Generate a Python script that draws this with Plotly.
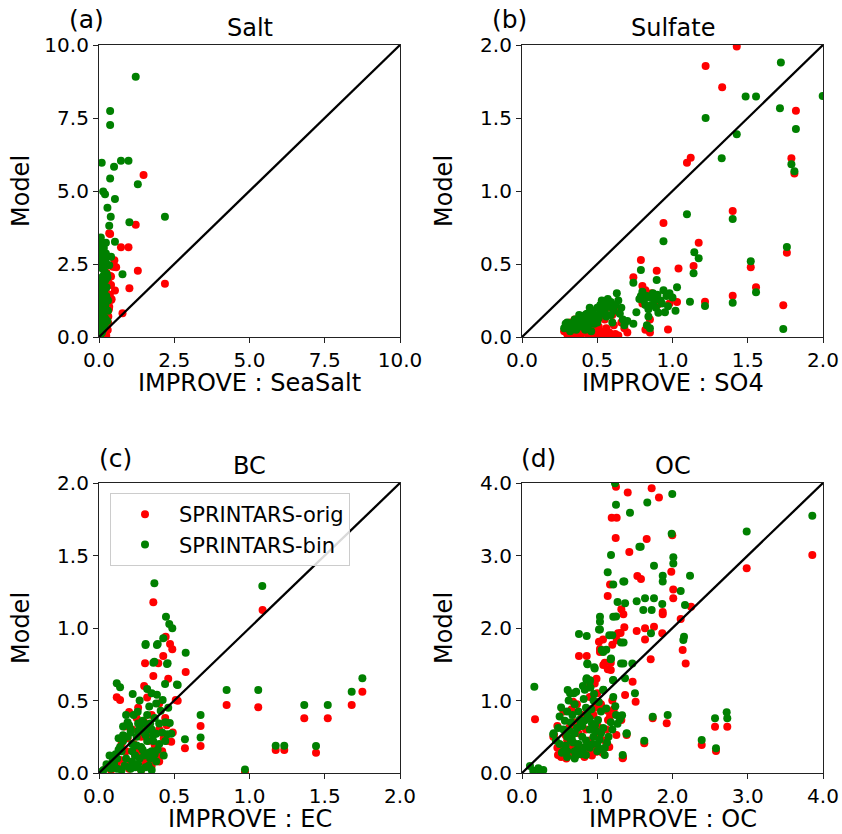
import plotly.graph_objects as go

# ---------------- data ----------------
# Panel (a) Salt: IMPROVE SeaSalt vs Model
a_orig_x = [1.48, 1.22, 0.37, 0.73, 0.98, 1.29, 2.19, 1.01, 0.53, 0.78, 0.42, 0.37, 0.53, 0.31, 0.31,
            0.46, 0.40, 0.40, 0.34, 0.29, 0.25, 0.20, 0.15, 0.22, 0.12, 0.18, 0.08, 0.05, 0.10, 0.25,
            0.30, 0.14, 0.20, 0.34, 0.51, 0.57, 0.40, 0.29, 0.36, 0.33, 0.27, 0.24, 0.30]
a_orig_y = [5.55, 3.84, 3.53, 3.07, 3.07, 2.27, 1.82, 1.67, 1.59, 0.81, 1.29, 2.09, 2.41, 0.70, 0.47,
            2.41, 2.07, 1.78, 1.04, 0.24, 1.50, 2.60, 2.90, 0.90, 1.20, 0.35, 0.60, 0.15, 1.90, 2.20,
            1.20, 0.10, 0.55, 3.55, 2.63, 2.39, 1.27, 0.70, 1.45, 0.95, 0.40, 0.05, 1.95]
a_bin_x = [1.22, 0.37, 0.37, 0.09, 0.73, 0.98, 0.50, 0.37, 1.29, 0.14, 0.20, 0.53, 0.28, 0.39, 2.19,
           0.34, 1.01, 0.06, 0.23, 0.53, 0.78, 0.10, 0.12, 0.23, 0.40, 0.18, 0.34, 0.05, 0.10, 0.20,
           0.28, 0.08, 0.15, 0.25, 0.05, 0.12, 0.20, 0.30, 0.08, 0.15, 0.22, 0.05, 0.12, 0.20, 0.28,
           0.08, 0.15, 0.06, 0.10, 0.04, 0.18, 0.10, 0.25, 0.30, 0.15, 0.05, 0.02, 0.02,
           0.03, 0.07, 0.11, 0.16, 0.21, 0.26, 0.03, 0.07, 0.11, 0.16, 0.21, 0.26, 0.03, 0.07, 0.11,
           0.16, 0.21, 0.03, 0.07, 0.11, 0.16, 0.24, 0.03, 0.07, 0.13, 0.19, 0.03, 0.09, 0.14, 0.02]
a_bin_y = [8.91, 7.74, 7.26, 5.97, 6.04, 6.04, 5.83, 5.43, 5.23, 4.98, 4.89, 4.73, 4.43, 4.12, 4.12,
           3.81, 3.93, 3.41, 3.23, 3.26, 2.15, 3.10, 2.98, 2.86, 2.75, 2.58, 2.46, 2.80, 2.35, 2.20,
           2.05, 1.95, 1.80, 1.70, 1.55, 1.45, 1.35, 1.25, 1.15, 1.05, 0.95, 0.85, 0.75, 0.65, 0.55,
           0.45, 0.35, 0.25, 0.15, 0.05, 1.60, 0.60, 2.50, 0.90, 2.10, 3.20, 2.40, 1.20,
           0.30, 0.50, 0.70, 0.90, 1.10, 1.30, 1.00, 1.25, 1.55, 1.75, 1.95, 2.15, 1.70, 1.85, 2.05,
           2.30, 2.65, 2.50, 2.65, 2.75, 3.05, 1.40, 0.10, 0.20, 0.25, 0.40, 0.65, 1.40, 0.55, 3.00]

# Panel (b) Sulfate: IMPROVE SO4 vs Model
b_orig_x = [1.427, 1.22, 1.33, 1.82, 1.096, 1.121, 1.79, 1.81, 1.40, 0.94, 1.174, 1.76, 0.79, 1.04, 1.14,
            1.52, 0.74, 0.895, 1.40, 1.555, 1.736, 1.216, 0.97, 1.03, 0.98, 0.80, 0.82, 0.86, 0.90, 0.80,
            0.85, 0.82, 0.85, 0.90, 0.30, 0.33, 0.36, 0.38, 0.40, 0.42, 0.45, 0.48, 0.50, 0.52, 0.55,
            0.58, 0.62, 0.35, 0.43, 0.50, 0.55, 0.60, 0.64, 0.68, 0.66, 0.32, 0.47, 0.53, 0.57,
            0.28, 0.34, 0.39, 0.44, 0.49, 0.54, 0.59, 0.64, 0.41, 0.46, 0.61, 0.70, 0.37, 0.51, 0.56]
b_orig_y = [1.99, 1.856, 1.71, 1.55, 1.194, 1.228, 1.224, 1.12, 0.863, 0.78, 0.646, 0.577, 0.527, 0.47, 0.486,
            0.477, 0.409, 0.454, 0.283, 0.34, 0.217, 0.242, 0.052, 0.24, 0.23, 0.35, 0.32, 0.30, 0.26, 0.23,
            0.12, 0.05, 0.03, 0.22, 0.02, 0.05, 0.02, 0.08, 0.03, 0.06, 0.02, 0.05, 0.02, 0.04, 0.02,
            0.03, 0.02, 0.12, 0.10, 0.10, 0.12, 0.15, 0.18, 0.06, 0.10, 0.10, 0.14, 0.17, 0.20,
            0.04, 0.01, 0.01, 0.01, 0.01, 0.01, 0.01, 0.01, 0.08, 0.07, 0.08, 0.03, 0.06, 0.07, 0.06]
b_bin_x = [1.72, 1.486, 1.555, 1.998, 1.714, 1.22, 1.82, 1.427, 1.327, 1.79, 1.81, 1.096, 1.40, 0.94, 1.145,
           1.174, 1.76, 1.52, 1.14, 0.79, 0.74, 0.895, 1.555, 1.40, 1.116, 1.216, 1.736, 1.03, 0.98, 0.906,
           0.80, 0.79, 0.83, 0.85, 0.87, 0.90, 0.92, 0.94, 0.96, 1.00, 0.82, 0.84, 0.84, 0.83, 0.85,
           0.88, 0.95, 1.02, 0.76, 0.74, 0.28, 0.30, 0.33, 0.35, 0.37, 0.39, 0.41, 0.43, 0.45, 0.47,
           0.50, 0.52, 0.55, 0.58, 0.60, 0.62, 0.64, 0.57, 0.52, 0.48, 0.44, 0.40, 0.36, 0.56, 0.60,
           0.65, 0.67, 0.68, 0.63, 0.54, 0.50, 0.42, 0.46,
           0.31, 0.34, 0.38, 0.42, 0.46, 0.49, 0.53, 0.57, 0.61, 0.32, 0.36, 0.40, 0.44, 0.48, 0.51,
           0.55, 0.59, 0.29, 0.38, 0.45, 0.53, 0.59, 0.66, 0.70, 0.81, 0.86, 0.89, 0.93, 0.97, 0.78]
b_bin_y = [1.88, 1.648, 1.648, 1.65, 1.566, 1.50, 1.424, 1.388, 1.224, 1.183, 1.135, 0.84, 0.808, 0.655, 0.58,
           0.54, 0.616, 0.518, 0.436, 0.459, 0.372, 0.39, 0.306, 0.235, 0.242, 0.212, 0.055, 0.34, 0.30, 0.166,
           0.31, 0.28, 0.28, 0.27, 0.30, 0.29, 0.25, 0.32, 0.28, 0.27, 0.22, 0.19, 0.14, 0.08, 0.06,
           0.25, 0.17, 0.18, 0.17, 0.09, 0.06, 0.10, 0.08, 0.12, 0.10, 0.14, 0.12, 0.16, 0.13, 0.18,
           0.20, 0.22, 0.24, 0.23, 0.20, 0.22, 0.25, 0.26, 0.16, 0.12, 0.08, 0.07, 0.05, 0.14, 0.10,
           0.16, 0.12, 0.08, 0.30, 0.20, 0.10, 0.05, 0.04,
           0.07, 0.10, 0.13, 0.15, 0.16, 0.15, 0.19, 0.21, 0.18, 0.04, 0.07, 0.10, 0.11, 0.09, 0.13,
           0.18, 0.15, 0.09, 0.15, 0.20, 0.25, 0.24, 0.20, 0.11, 0.25, 0.22, 0.20, 0.23, 0.21, 0.26]

# Panel (c) BC: IMPROVE EC vs Model
c_orig_x = [1.087, 0.361, 0.443, 0.472, 0.487, 0.427, 0.306, 0.394, 0.576, 0.361, 0.46, 0.118, 0.14, 0.523, 0.848,
            1.058, 1.364, 1.52, 1.679, 1.75, 0.675, 0.675, 0.571, 1.174, 1.231, 1.442, 0.97, 0.20, 0.25, 0.30,
            0.35, 0.40, 0.45, 0.22, 0.28, 0.33, 0.38, 0.42, 0.15, 0.18, 0.24, 0.30, 0.35, 0.40, 0.10,
            0.12, 0.20, 0.28, 0.33, 0.36, 0.45, 0.26, 0.32, 0.40, 0.30, 0.44, 0.05, 0.17, 0.23, 0.51,
            0.49, 0.48, 0.37, 0.31, 0.27, 0.23, 0.08, 0.14, 0.19, 0.26, 0.34, 0.39, 0.43, 0.21, 0.29]
c_orig_y = [1.124, 1.177, 0.94, 0.89, 0.853, 0.807, 0.757, 0.757, 0.697, 0.669, 0.65, 0.522, 0.503, 0.499, 0.469,
            0.453, 0.377, 0.377, 0.469, 0.561, 0.324, 0.186, 0.17, 0.159, 0.159, 0.14, 0.009, 0.42, 0.38, 0.35,
            0.40, 0.30, 0.33, 0.30, 0.25, 0.22, 0.18, 0.15, 0.20, 0.15, 0.12, 0.10, 0.05, 0.08, 0.10,
            0.05, 0.03, 0.02, 0.12, 0.28, 0.22, 0.45, 0.52, 0.48, 0.60, 0.38, 0.04, 0.32, 0.20, 0.504,
            0.28, 0.215, 0.193, 0.068, 0.124, 0.046, 0.02, 0.09, 0.24, 0.17, 0.26, 0.12, 0.24, 0.07, 0.31]
c_bin_x = [1.085, 0.368, 0.445, 0.467, 0.487, 0.427, 0.31, 0.39, 0.576, 0.368, 0.456, 0.118, 0.14, 0.523, 0.848,
           1.058, 1.364, 1.52, 1.679, 1.75, 0.675, 0.675, 0.571, 1.174, 1.231, 1.442, 0.97, 0.224, 0.32, 0.35,
           0.385, 0.439, 0.518, 0.423, 0.257, 0.334, 0.19, 0.20, 0.26, 0.30, 0.34, 0.40, 0.44, 0.47, 0.16,
           0.21, 0.35, 0.38, 0.454, 0.48, 0.30, 0.25, 0.32, 0.28, 0.22, 0.15, 0.18, 0.24, 0.30, 0.35,
           0.38, 0.33, 0.26, 0.20, 0.12, 0.10, 0.08, 0.15, 0.05, 0.35, 0.28, 0.22, 0.40, 0.42, 0.37,
           0.32, 0.14, 0.309, 0.385, 0.452, 0.361,
           0.06, 0.09, 0.11, 0.13, 0.16, 0.19, 0.22, 0.25, 0.27, 0.29, 0.31, 0.33, 0.36, 0.39, 0.12,
           0.17, 0.21, 0.24, 0.27, 0.31, 0.34, 0.37, 0.26, 0.29, 0.32, 0.36, 0.23, 0.18, 0.41, 0.44,
           0.03, 0.07, 0.02, 0.13, 0.43, 0.46, 0.38, 0.27, 0.21, 0.16]
c_bin_y = [1.29, 1.308, 1.078, 1.028, 0.998, 0.929, 0.89, 0.89, 0.83, 0.768, 0.757, 0.619, 0.591, 0.607, 0.572,
           0.572, 0.469, 0.469, 0.561, 0.653, 0.40, 0.244, 0.232, 0.188, 0.188, 0.186, 0.025, 0.545, 0.58, 0.55,
           0.54, 0.613, 0.611, 0.504, 0.423, 0.458, 0.35, 0.33, 0.342, 0.342, 0.342, 0.342, 0.35, 0.345, 0.32,
           0.30, 0.30, 0.27, 0.268, 0.27, 0.28, 0.25, 0.22, 0.18, 0.20, 0.15, 0.10, 0.12, 0.12, 0.15,
           0.08, 0.05, 0.06, 0.04, 0.10, 0.06, 0.03, 0.02, 0.06, 0.02, 0.02, 0.08, 0.20, 0.28, 0.38,
           0.40, 0.18, 0.883, 0.883, 0.752, 0.761,
           0.04, 0.08, 0.13, 0.16, 0.22, 0.25, 0.15, 0.19, 0.30, 0.16, 0.26, 0.14, 0.22, 0.16, 0.03,
           0.05, 0.03, 0.04, 0.10, 0.04, 0.10, 0.13, 0.29, 0.36, 0.30, 0.26, 0.40, 0.40, 0.43, 0.22,
           0.02, 0.12, 0.01, 0.24, 0.12, 0.45, 0.48, 0.50, 0.28, 0.26]

# Panel (d) OC: IMPROVE OC vs Model
d_orig_x = [3.858, 2.986, 1.723, 1.82, 1.405, 1.249, 1.192, 1.258, 1.245, 1.426, 1.657, 1.997, 1.984, 1.533, 1.581,
            2.01, 2.01, 1.139, 1.17, 2.247, 1.87, 1.87, 2.109, 1.347, 1.32, 2.135, 2.175, 1.71, 1.524, 1.635,
            1.754, 1.864, 1.635, 1.36, 1.31, 1.26, 1.20, 1.036, 1.036, 0.757, 0.86, 1.10, 1.14, 1.47, 1.37,
            1.51, 1.139, 1.17, 0.173, 1.923, 1.737, 2.565, 2.728, 2.388, 2.578, 1.625, 1.338, 1.39, 0.416,
            1.023, 1.077, 1.276, 1.18, 1.18, 1.08, 0.966, 0.678, 0.425, 0.47, 0.634, 1.01, 1.03, 1.143, 1.254,
            1.143, 0.988, 0.855, 0.722, 0.589, 0.478, 1.342, 1.32, 0.55, 0.60, 0.70, 0.80, 0.90, 0.75, 0.85,
            0.95, 1.05, 1.20, 0.65, 0.90, 1.10, 0.55, 0.80, 0.90, 1.00, 0.70, 0.60,
            0.52, 0.62, 0.68, 0.76, 0.83, 0.93, 0.98, 1.07, 1.16, 1.22, 0.58, 0.66, 0.73, 0.88, 0.97,
            1.12, 0.64, 0.79, 0.47, 0.99]
d_orig_y = [3.007, 2.823, 3.926, 3.80, 3.87, 3.95, 3.52, 3.52, 3.24, 3.05, 3.228, 3.28, 2.777, 2.717, 2.676,
            2.53, 2.41, 2.44, 2.60, 2.294, 2.22, 2.19, 2.124, 2.19, 2.26, 1.697, 1.51, 1.57, 1.958, 1.995,
            2.018, 1.927, 1.843, 2.01, 1.93, 1.83, 1.77, 1.71, 1.67, 1.614, 1.614, 1.52, 1.43, 1.26, 1.076,
            0.983, 0.86, 0.787, 0.74, 0.685, 0.754, 0.639, 0.639, 0.386, 0.303, 0.41, 0.202, 0.524, 0.50,
            1.81, 1.84, 1.926, 1.52, 1.42, 1.49, 1.236, 0.983, 0.524, 0.65, 0.634, 0.64, 0.50, 0.731, 0.524,
            0.363, 0.294, 0.27, 0.25, 0.20, 0.25, 0.216, 0.73, 0.85, 0.45, 0.40, 0.35, 0.45, 0.55, 0.60,
            0.80, 0.95, 1.00, 0.30, 0.30, 0.45, 0.35, 0.80, 1.05, 1.10, 0.70, 0.60,
            0.22, 0.25, 0.33, 0.28, 0.22, 0.24, 0.36, 0.28, 0.36, 0.88, 0.52, 0.88, 0.95, 1.18, 0.90,
            0.60, 0.38, 0.72, 0.35, 1.30]
d_bin_x = [3.858, 2.986, 1.997, 1.236, 1.665, 1.249, 1.435, 1.989, 1.577, 1.56, 1.183, 2.011, 2.011, 1.754, 1.139,
           2.233, 1.87, 1.87, 1.346, 1.36, 1.213, 2.109, 1.524, 1.635, 1.754, 1.27, 1.37, 1.864, 2.166, 1.036,
           1.036, 1.036, 1.612, 1.723, 1.213, 1.25, 0.757, 0.86, 1.16, 1.714, 2.153, 2.144, 1.316, 1.059, 1.183,
           0.868, 0.961, 1.316, 1.347, 1.466, 0.164, 1.369, 1.213, 0.86, 0.904, 1.081, 1.213, 1.501, 0.607,
           0.638, 1.737, 1.936, 2.565, 2.72, 2.728, 2.388, 2.578, 1.625, 1.338, 1.391, 0.416, 0.106, 0.217,
           0.283, 0.15, 0.25, 1.023, 1.20, 1.35, 1.12, 1.08, 1.178, 0.87, 0.966, 0.855, 0.90, 1.21, 1.08,
           0.834, 0.957, 0.69, 0.52, 0.50, 0.766, 1.01, 1.12, 1.33, 1.27, 1.39, 0.55, 0.60, 0.65, 0.70,
           0.75, 0.80, 0.85, 0.90, 0.95, 1.00, 1.05, 1.10, 1.15, 0.60, 0.70, 0.80, 0.90, 1.00, 0.65,
           0.75, 0.85, 0.95, 0.60, 0.50, 0.55, 0.45, 1.20, 1.25, 0.70, 0.80, 0.90, 1.05, 0.42, 1.10,
           0.85, 0.70, 0.60,
           0.53, 0.58, 0.63, 0.68, 0.73, 0.78, 0.83, 0.88, 0.93, 0.98, 1.03, 1.08, 1.13, 1.18, 0.62,
           0.72, 0.82, 0.92, 1.02, 0.57, 0.67, 0.77, 0.87, 0.97, 0.74, 0.84, 0.94, 1.04, 0.66, 0.48,
           1.24, 1.30, 0.81, 0.91, 0.71]
d_bin_y = [3.55, 3.33, 3.85, 3.996, 3.73, 3.70, 3.59, 3.30, 3.12, 3.12, 3.007, 2.975, 2.89, 2.86, 2.77,
           2.72, 2.72, 2.64, 2.64, 2.64, 2.60, 2.51, 2.37, 2.41, 2.41, 2.36, 2.34, 2.33, 2.317, 2.156,
           2.087, 1.98, 2.25, 2.25, 2.156, 2.16, 1.917, 1.89, 1.90, 1.927, 1.88, 1.834, 1.80, 1.697, 1.58,
           1.51, 1.457, 1.51, 1.51, 1.51, 1.19, 1.306, 1.283, 1.306, 1.28, 1.145, 1.05, 1.10, 1.145,
           1.10, 0.777, 0.80, 0.754, 0.837, 0.754, 0.455, 0.34, 0.446, 0.248, 0.547, 0.534, 0.097, 0.065,
           0.041, 0.03, 0.02, 1.98, 1.90, 1.80, 1.70, 1.67, 1.57, 1.50, 1.44, 1.29, 1.26, 1.28, 1.15,
           1.15, 1.09, 1.10, 0.905, 0.78, 0.733, 0.73, 0.89, 0.795, 0.68, 0.54, 0.60, 0.50, 0.45, 0.55,
           0.40, 0.50, 0.45, 0.60, 0.50, 0.40, 0.55, 0.35, 0.50, 0.30, 0.30, 0.30, 0.35, 0.30, 0.70,
           0.85, 0.90, 1.00, 0.85, 0.40, 0.30, 0.45, 0.60, 0.80, 0.95, 0.65, 0.75, 0.85, 0.55, 0.25,
           0.25, 0.20, 0.22,
           0.28, 0.38, 0.58, 0.42, 0.62, 0.26, 0.72, 0.38, 0.68, 0.58, 0.46, 0.62, 0.42, 0.70, 1.00,
           1.12, 1.02, 0.88, 0.98, 0.72, 0.80, 0.65, 0.80, 0.66, 0.33, 0.36, 0.40, 0.33, 0.48, 0.62,
           0.92, 0.74, 1.20, 1.18, 0.24]

axis_max = [10.0, 2.0, 2.0, 4.0]
tick_vals = [[0, 2.5, 5, 7.5, 10], [0, 0.5, 1, 1.5, 2], [0, 0.5, 1, 1.5, 2], [0, 1, 2, 3, 4]]
titles = ["Salt", "Sulfate", "BC", "OC"]
letters = ["(a)", "(b)", "(c)", "(d)"]
x_titles = ["IMPROVE : SeaSalt", "IMPROVE : SO4", "IMPROVE : EC", "IMPROVE : OC"]
series_names = ["SPRINTARS-orig", "SPRINTARS-bin"]

panels = [
    (a_orig_x, a_orig_y, a_bin_x, a_bin_y),
    (b_orig_x, b_orig_y, b_bin_x, b_bin_y),
    (c_orig_x, c_orig_y, c_bin_x, c_bin_y),
    (d_orig_x, d_orig_y, d_bin_x, d_bin_y),
]

# ---------------- figure ----------------
W, H = 842, 834
FONT = "DejaVu Sans"
RED = "#ff0000"
GREEN = "#008000"

# pixel boxes of the four axes (left, right, top, bottom)
boxes = [(99, 400, 45, 337), (522, 823, 45, 337), (99, 400, 483, 773), (522, 823, 483, 773)]

fig = go.Figure()
annotations = []
for i, ((ox, oy, bx, by), (l, r, t, b)) in enumerate(zip(panels, boxes)):
    n = "" if i == 0 else str(i + 1)
    xa, ya = "x" + n, "y" + n
    show = (i == 2)
    fig.add_trace(go.Scatter(x=ox, y=oy, mode="markers", xaxis=xa, yaxis=ya,
                             marker=dict(color=RED, size=8, line=dict(width=0)),
                             name=series_names[0], showlegend=show, legendgroup="orig"))
    fig.add_trace(go.Scatter(x=bx, y=by, mode="markers", xaxis=xa, yaxis=ya,
                             marker=dict(color=GREEN, size=8, line=dict(width=0)),
                             name=series_names[1], showlegend=show, legendgroup="bin"))
    m = axis_max[i]
    fig.add_trace(go.Scatter(x=[0, m], y=[0, m], mode="lines", xaxis=xa, yaxis=ya,
                             line=dict(color="black", width=2.3), showlegend=False,
                             hoverinfo="skip"))
    axis_common = dict(range=[0, m], tickvals=tick_vals[i], tickformat=".1f", automargin=False,
                       showgrid=False, zeroline=False, showline=True, linecolor="#222222",
                       linewidth=1.2, mirror=True, ticks="outside", ticklen=5, tickwidth=1.2,
                       tickcolor="#222222", tickfont=dict(family=FONT, size=20, color="black"))
    fig.layout["xaxis" + n] = dict(domain=[l / W, r / W], anchor=ya, **axis_common)
    fig.layout["yaxis" + n] = dict(domain=[1 - b / H, 1 - t / H], anchor=xa, **axis_common)

    cx = (l + r) / 2
    annotations.append(dict(text=titles[i], x=cx / W, y=1 - (t - 17) / H, xref="paper", yref="paper",
                            showarrow=False, font=dict(family=FONT, size=24, color="black"),
                            xanchor="center", yanchor="middle"))
    lx = l - 13 if i < 2 else l + 16
    annotations.append(dict(text=letters[i], x=lx / W, y=1 - (t - 25) / H, xref="paper", yref="paper",
                            showarrow=False, font=dict(family=FONT, size=25, color="black"),
                            xanchor="center", yanchor="middle"))
    annotations.append(dict(text=x_titles[i], x=cx / W, y=1 - (b + 46) / H, xref="paper", yref="paper",
                            showarrow=False, font=dict(family=FONT, size=24, color="black"),
                            xanchor="center", yanchor="middle"))
    annotations.append(dict(text="Model", x=(l - 78) / W, y=1 - ((t + b) / 2) / H, xref="paper",
                            yref="paper", showarrow=False, textangle=-90,
                            font=dict(family=FONT, size=24, color="black"),
                            xanchor="center", yanchor="middle"))

fig.update_layout(
    template="none",
    width=W, height=H,
    margin=dict(l=0, r=0, t=0, b=0, pad=0, autoexpand=False),
    paper_bgcolor="white", plot_bgcolor="white",
    font=dict(family=FONT, color="black"),
    annotations=annotations,
    showlegend=True,
    legend=dict(x=110 / W, y=1 - 493 / H, xanchor="left", yanchor="top",
                font=dict(family=FONT, size=21, color="black"),
                bordercolor="#cccccc", borderwidth=1, bgcolor="rgba(255,255,255,0.85)",
                itemwidth=58, traceorder="normal"),
)

fig.write_html("out.html")
